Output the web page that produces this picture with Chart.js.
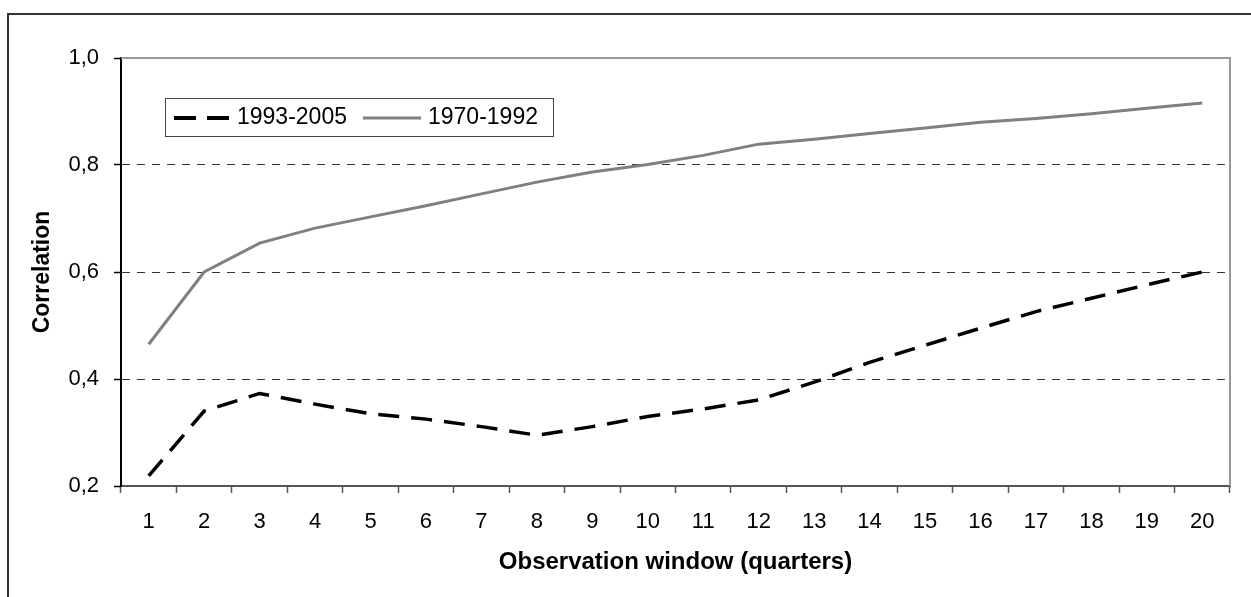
<!DOCTYPE html>
<html>
<head>
<meta charset="utf-8">
<script src="https://cdn.jsdelivr.net/npm/chart.js@4/dist/chart.umd.min.js"></script>
<style>
  html, body { margin: 0; padding: 0; background: #fff; }
  #wrap { width: 1251px; height: 597px; position: relative; }
</style>
</head>
<body>
<div id="wrap"><canvas id="corrChart" width="1251" height="597"></canvas></div>
<script>
// categories and series
const quarters = ['1','2','3','4','5','6','7','8','9','10','11','12','13','14','15','16','17','18','19','20'];
const corr19932005 = [0.219, 0.340, 0.373, 0.353, 0.335, 0.325, 0.311, 0.295, 0.311, 0.330, 0.344, 0.361, 0.394, 0.431, 0.463, 0.495, 0.526, 0.551, 0.576, 0.600];
const corr19701992 = [0.465, 0.600, 0.654, 0.682, 0.703, 0.724, 0.746, 0.768, 0.787, 0.801, 0.818, 0.839, 0.848, 0.859, 0.869, 0.880, 0.887, 0.896, 0.906, 0.916];
const seriesNames = ['1993-2005', '1970-1992'];
const yTicks = [0.2, 0.4, 0.6, 0.8, 1.0];

const FONT = 'Liberation Sans, Arial, sans-serif';

// frame, plot border and legend box drawn by hand
const decor = {
    id: 'decor',
    beforeDraw(chart) {
        const c = chart.ctx;
        c.save();
        c.strokeStyle = '#333';
        c.lineWidth = 2;
        c.beginPath();
        c.moveTo(8, 597);
        c.lineTo(8, 14);
        c.lineTo(1251, 14);
        c.stroke();
        c.restore();
    },
    afterDatasetsDraw(chart) {
        const c = chart.ctx;
        const a = chart.chartArea;
        c.save();
        // grey plot border top / right
        c.strokeStyle = '#999';
        c.lineWidth = 2;
        c.beginPath();
        c.moveTo(a.left, a.top);
        c.lineTo(a.right, a.top);
        c.lineTo(a.right, a.bottom);
        c.stroke();

        // legend
        const lx = 165, ly = 98, lw = 388, lh = 38;
        c.fillStyle = '#fff';
        c.fillRect(lx, ly, lw, lh);
        c.strokeStyle = '#444';
        c.lineWidth = 1;
        c.strokeRect(lx + 0.5, ly + 0.5, lw, lh);
        const my = ly + lh / 2 + 1;
        const ds = chart.data.datasets;
        // dashed sample
        c.strokeStyle = ds[0].borderColor;
        c.lineWidth = 4;
        c.beginPath();
        c.moveTo(174, my); c.lineTo(196, my);
        c.moveTo(207, my); c.lineTo(229, my);
        c.stroke();
        // solid sample
        c.strokeStyle = ds[1].borderColor;
        c.lineWidth = 3;
        c.beginPath();
        c.moveTo(363, my); c.lineTo(421, my);
        c.stroke();
        c.fillStyle = '#000';
        c.font = '23px ' + FONT;
        c.textBaseline = 'middle';
        c.fillText(ds[0].label, 237, my);
        c.fillText(ds[1].label, 428, my);
        c.restore();
    }
};

const ctx = document.getElementById('corrChart').getContext('2d');
new Chart(ctx, {
    type: 'line',
    data: {
        labels: quarters,
        datasets: [{
            label: seriesNames[0],
            data: corr19932005,
            borderColor: '#000',
            borderWidth: 3.5,
            borderDash: [21, 12],
            pointRadius: 0,
            tension: 0,
            fill: false
        }, {
            label: seriesNames[1],
            data: corr19701992,
            borderColor: '#808080',
            borderWidth: 3,
            pointRadius: 0,
            tension: 0,
            fill: false
        }]
    },
    options: {
        responsive: false,
        animation: false,
        layout: { padding: { left: 20, right: 21, top: 58, bottom: 14 } },
        plugins: {
            legend: { display: false },
            tooltip: { enabled: false }
        },
        scales: {
            x: {
                offset: true,
                grid: {
                    offset: true,
                    drawOnChartArea: false,
                    tickLength: 7,
                    tickColor: '#555',
                    tickWidth: 1.5
                },
                border: { color: '#555', width: 2 },
                ticks: {
                    color: '#000',
                    padding: 16,
                    maxRotation: 0,
                    autoSkip: false,
                    font: { family: FONT, size: 22 }
                },
                title: {
                    display: true,
                    text: 'Observation window (quarters)',
                    color: '#000',
                    padding: { top: 6, bottom: 6 },
                    font: { family: FONT, size: 24, weight: 'bold' }
                },
                afterFit(scale) { scale.height = 97; }
            },
            y: {
                min: 0.2,
                max: 1.0,
                afterBuildTicks(scale) { scale.ticks = yTicks.map(v => ({ value: v })); },
                grid: {
                    color: c => (c.tick && (c.tick.value <= 0.21 || c.tick.value >= 0.99)) ? 'rgba(0,0,0,0)' : '#333',
                    lineWidth: 1,
                    tickLength: 7,
                    tickColor: '#000',
                    tickWidth: 1.5
                },
                border: { color: '#000', width: 2, dash: [8, 7] },
                ticks: {
                    color: '#000',
                    padding: 15,
                    font: { family: FONT, size: 22 },
                    callback: v => v.toFixed(1).replace('.', ',')
                },
                title: {
                    display: true,
                    text: 'Correlation',
                    color: '#000',
                    padding: { top: 9, bottom: 9 },
                    font: { family: FONT, size: 23, weight: 'bold' }
                },
                afterFit(scale) { scale.width = 101; }
            }
        }
    },
    plugins: [decor]
});
</script>
</body>
</html>
